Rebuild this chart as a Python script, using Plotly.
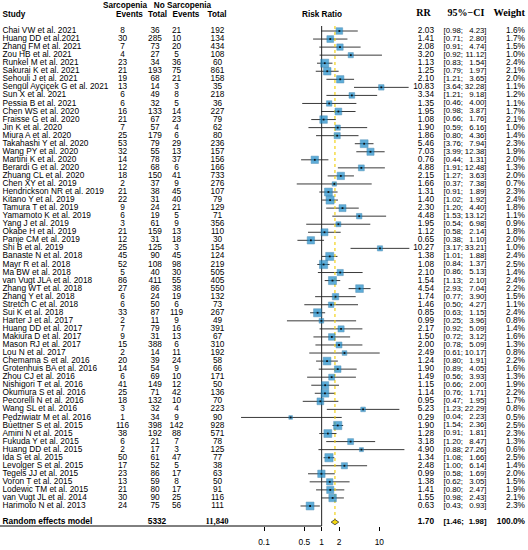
import plotly.graph_objects as go
import numpy as np

studies = [
    "Chai VW et al. 2021", "Huang DD et al.2021", "Zhang FM et al. 2021", "Zou HB et al. 2021",
    "Runkel M et al. 2021", "Sakurai K et al. 2021", "Sehouli J et al. 2021",
    "Sengül Ayçiçek G et al. 2021", "Sun X et al. 2021", "Pessia B et al. 2021",
    "Chen WS et al. 2020", "Fraisse G et al. 2020", "Jin K et al. 2020", "Miura A et al. 2020",
    "Takahashi Y et al. 2020", "Wang PY et al. 2020", "Martini K et al. 2020",
    "Berardi G et al. 2020", "Zhuang CL et al. 2020", "Chen XY et al. 2019",
    "Hendrickson NR et al. 2019", "Kitano Y et al. 2019", "Tamura T et al. 2019",
    "Yamamoto K et al. 2019", "Yang J et al. 2019", "Okabe H et al. 2019",
    "Panje CM et al. 2019", "Shi B et al. 2019", "Banaste N et al. 2018", "Mayr R et al. 2018",
    "Ma BW et al. 2018", "van Vugt JLA et al. 2018", "Zhang WT et al. 2018",
    "Zhang Y et al. 2018", "Stretch C et al. 2018", "Sui K et al. 2018", "Harter J et al. 2017",
    "Huang DD et al. 2017", "Makiura D et al. 2017", "Mason RJ et al. 2017", "Lou N et al. 2017",
    "Chemama S et al. 2016", "Grotenhuis BA et al. 2016", "Zhou CJ et al. 2016",
    "Nishigori T et al. 2016", "Okumura S et al. 2016", "Pecorelli N et al. 2016",
    "Wang SL et al. 2016", "Pędziwiatr M et al. 2016", "Buettner S et al. 2015",
    "Amini N et al. 2015", "Fukuda Y et al. 2015", "Huang DD et al. 2015", "Ida S et al. 2015",
    "Levolger S et al. 2015", "Tegels JJ et al. 2015", "Voron T et al. 2015",
    "Lodewic TM et al. 2015", "van Vugt JL et al. 2014", "Harimoto N et al. 2013",
]
sarc_events = [8, 30, 7, 4, 23, 21, 19, 13, 6, 6, 16, 21, 7, 25, 53, 32, 14, 12, 18, 2,
               21, 22, 9, 6, 3, 21, 12, 25, 45, 52, 5, 86, 27, 6, 6, 33, 2, 7, 9, 15,
               2, 20, 14, 6, 41, 25, 18, 3, 1, 116, 38, 6, 2, 50, 17, 23, 13, 21, 30, 24]
sarc_total = [36, 285, 73, 27, 34, 193, 68, 14, 49, 32, 133, 67, 57, 179, 79, 55, 78, 68, 150, 37,
              38, 31, 24, 19, 61, 159, 31, 125, 90, 108, 40, 411, 86, 24, 50, 87, 11, 79, 31, 388,
              14, 39, 54, 69, 149, 71, 132, 32, 34, 398, 192, 21, 17, 61, 52, 86, 59, 80, 90, 75]
nosarc_events = [21, 10, 20, 5, 36, 75, 21, 3, 8, 5, 14, 23, 4, 6, 29, 13, 37, 6, 41, 9,
                 45, 40, 21, 5, 9, 13, 18, 3, 45, 98, 30, 55, 38, 19, 6, 119, 9, 16, 13, 6,
                 11, 24, 9, 10, 12, 42, 10, 4, 9, 142, 88, 7, 3, 47, 5, 17, 8, 17, 25, 56]
nosarc_total = [192, 134, 434, 108, 60, 861, 158, 35, 218, 36, 227, 79, 62, 80, 236, 157, 156, 166, 733, 276,
                107, 79, 129, 71, 356, 110, 30, 154, 124, 219, 505, 405, 550, 132, 73, 267, 49, 391, 67, 310,
                192, 58, 66, 171, 50, 136, 70, 223, 90, 928, 571, 78, 125, 77, 38, 63, 50, 91, 116, 111]
rr = [2.03, 1.41, 2.08, 3.20, 1.13, 1.25, 2.10, 10.83, 3.34, 1.35, 1.95, 1.08, 1.90, 1.86, 5.46,
      7.03, 0.76, 4.88, 2.15, 1.66, 1.31, 1.40, 2.30, 4.48, 1.95, 1.12, 0.65, 10.27, 1.38, 1.08,
      2.10, 1.54, 4.54, 1.74, 1.46, 0.85, 0.99, 2.17, 1.50, 2.00, 2.49, 1.24, 1.90, 1.49, 1.15,
      1.14, 0.95, 5.23, 0.29, 1.90, 1.28, 3.18, 4.90, 1.34, 2.48, 0.99, 1.38, 1.41, 1.55, 0.63]
ci_low = [0.98, 0.71, 0.91, 0.92, 0.83, 0.79, 1.21, 3.64, 1.21, 0.46, 0.98, 0.66, 0.59, 0.80, 3.76,
          3.99, 0.44, 1.91, 1.27, 0.37, 0.91, 1.02, 1.20, 1.53, 0.54, 0.58, 0.38, 3.17, 1.01, 0.84,
          0.86, 1.13, 2.93, 0.77, 0.50, 0.63, 0.25, 0.92, 0.72, 0.78, 0.61, 0.80, 0.89, 0.56, 0.66,
          0.76, 0.47, 1.23, 0.04, 1.54, 0.91, 1.20, 0.88, 1.08, 1.00, 0.58, 0.62, 0.80, 0.98, 0.43]
ci_high = [4.23, 2.80, 4.74, 11.12, 1.54, 1.97, 3.65, 32.28, 9.18, 4.00, 3.87, 1.76, 6.16, 4.36, 7.94,
           12.38, 1.31, 12.48, 3.63, 7.38, 1.89, 1.92, 4.40, 13.12, 6.98, 2.14, 1.10, 33.21, 1.88, 1.37,
           5.13, 2.10, 7.04, 3.90, 4.27, 1.15, 3.96, 5.09, 3.12, 5.09, 10.17, 1.91, 4.05, 3.93, 2.00,
           1.71, 1.95, 22.29, 2.23, 2.36, 1.81, 8.47, 27.26, 1.66, 6.14, 1.69, 3.05, 2.47, 2.43, 0.93]
weight = [1.6, 1.7, 1.5, 1.0, 2.4, 2.1, 2.0, 1.1, 1.2, 1.1, 1.7, 2.1, 1.0, 1.4, 2.3, 1.9, 2.0, 1.3,
          2.0, 0.7, 2.3, 2.4, 1.8, 1.1, 0.9, 1.8, 2.0, 1.0, 2.4, 2.5, 1.4, 2.4, 2.2, 1.5, 1.1, 2.4,
          0.8, 1.4, 1.6, 1.3, 0.8, 2.2, 1.6, 1.3, 1.9, 2.2, 1.7, 0.8, 0.5, 2.5, 2.3, 1.3, 0.6, 2.5,
          1.4, 2.0, 1.5, 1.9, 2.1, 2.3]

pooled_rr, pooled_low, pooled_high = 1.70, 1.46, 1.98
pooled_sarc_total = "5332"
pooled_nosarc_total = "11,840"
heterogeneity = ("Heterogeneity: <i>I</i><sup>2</sup> = 75%, τ<sup>2</sup> = 0.2308, "
                 "<i>p</i> < 0.01")
tick_vals = [0.1, 0.5, 1, 2, 10]
tick_text = ["0.1", "0.5", "1", "2", "10"]

SANS = "Liberation Sans, Arial, sans-serif"
SERIF = "Liberation Serif, Times New Roman, serif"
FS = 8.3
FS_CI = 7.8

n = len(studies)
rows = list(range(n))
pooled_row = n + 1
head1, head2 = -3.1, -2.02


def col(x, texts, ys, pos, size=FS, family=SANS, color="black"):
    return go.Scatter(x=[x] * len(texts), y=ys, text=texts, mode="text", textposition=pos,
                      textfont=dict(family=family, size=size, color=color), xaxis="x2", yaxis="y",
                      hoverinfo="skip", showlegend=False, cliponaxis=False)


traces = []

# CI whiskers
wx, wy = [], []
for i in rows:
    wx += [ci_low[i], ci_high[i], None]
    wy += [i, i, None]
traces.append(go.Scatter(x=wx, y=wy, mode="lines", line=dict(color="#3a3a3a", width=1),
                         hoverinfo="skip", showlegend=False))

# reference lines
traces.append(go.Scatter(x=[1, 1], y=[-0.62, 61.485], mode="lines",
                         line=dict(color="#222222", width=1), hoverinfo="skip", showlegend=False))
traces.append(go.Scatter(x=[pooled_rr, pooled_rr], y=[-0.62, pooled_row], mode="lines",
                         line=dict(color="#f2d21b", width=1.2, dash="dot"),
                         hoverinfo="skip", showlegend=False))

# weighted squares
traces.append(go.Scatter(x=rr, y=rows, mode="markers",
                         marker=dict(symbol="square", size=[5.2 * np.sqrt(w) for w in weight],
                                     color="#1b8bc9", line=dict(color="#13679a", width=0.5)),
                         hoverinfo="skip", showlegend=False))
traces.append(go.Scatter(x=rr, y=rows, mode="markers",
                         marker=dict(symbol="square", size=1.8, color="#111111"),
                         hoverinfo="skip", showlegend=False))

# pooled diamond
h = 0.33
traces.append(go.Scatter(x=[pooled_low, pooled_rr, pooled_high, pooled_rr, pooled_low],
                         y=[pooled_row, pooled_row - h, pooled_row, pooled_row + h, pooled_row],
                         mode="lines", fill="toself", fillcolor="#f5d90f",
                         line=dict(color="#333333", width=0.8), hoverinfo="skip", showlegend=False))

# text columns
traces.append(col(2.5, studies, rows, "middle right"))
traces.append(col(122.5, [str(v) for v in sarc_events], rows, "middle center"))
traces.append(col(155, [str(v) for v in sarc_total], rows, "middle center"))
traces.append(col(176.5, [str(v) for v in nosarc_events], rows, "middle center"))
traces.append(col(217.5, [str(v) for v in nosarc_total], rows, "middle center"))
traces.append(col(434, ["%.2f" % v for v in rr], rows, "middle left"))
traces.append(col(443.5, ["[%.2f;" % v for v in ci_low], rows, "middle right", size=FS_CI))
traces.append(col(486.5, ["%.2f]" % v for v in ci_high], rows, "middle left", size=FS_CI))
traces.append(col(525, ["%.1f%%" % v for v in weight], rows, "middle left"))

# headers
traces.append(col(125, ["<b>Sarcopenia</b>"], [head1], "middle center", size=8.2))
traces.append(col(182.5, ["<b>No Sarcopenia</b>"], [head1], "middle center", size=8.2))
traces.append(col(2.5, ["<b>Study</b>"], [head2], "middle right", size=8.2))
traces.append(col(129.5, ["<b>Events</b>"], [head2], "middle center", size=8.2))
traces.append(col(157.5, ["<b>Total</b>"], [head2], "middle center", size=8.2))
traces.append(col(186, ["<b>Events</b>"], [head2], "middle center", size=8.2))
traces.append(col(217, ["<b>Total</b>"], [head2], "middle center", size=8.2))
traces.append(col(322, ["<b>Risk Ratio</b>"], [head2], "middle center", size=8.2))
traces.append(col(423.5, ["<b>RR</b>"], [head2 - 0.15], "middle center", size=10, family=SERIF))
traces.append(col(466, ["<b>95%−CI</b>"], [head2 - 0.15], "middle center", size=10, family=SERIF))
traces.append(col(525, ["<b>Weight</b>"], [head2 - 0.15], "middle left", size=10.3, family=SERIF))

# pooled row
traces.append(col(2.5, ["<b>Random effects model</b>"], [pooled_row], "middle right", size=8.4))
traces.append(col(157, ["<b>" + pooled_sarc_total + "</b>"], [pooled_row], "middle center"))
traces.append(col(217, ["<b>" + pooled_nosarc_total + "</b>"], [pooled_row], "middle center",
                  size=8.6, family=SERIF))
traces.append(col(434, ["<b>%.2f</b>" % pooled_rr], [pooled_row], "middle left"))
traces.append(col(443.5, ["<b>[%.2f;</b>" % pooled_low], [pooled_row], "middle right", size=FS_CI))
traces.append(col(486.5, ["<b>%.2f]</b>" % pooled_high], [pooled_row], "middle left", size=FS_CI))
traces.append(col(525, ["<b>100.0%</b>"], [pooled_row], "middle left"))
traces.append(col(2.5, [heterogeneity], [61.72], "middle right", size=6.9))

layout = go.Layout(
    width=528, height=550,
    margin=dict(l=0, r=0, t=0, b=24),
    paper_bgcolor="white", plot_bgcolor="white",
    xaxis=dict(type="log", range=[-5.579, 3.579], showgrid=False, zeroline=False, showline=False,
               tickvals=tick_vals, ticktext=tick_text, ticks="outside", ticklen=4,
               tickcolor="black", tickwidth=1, ticklabelstandoff=4,
               tickfont=dict(family=SANS, size=8.4, color="black")),
    xaxis2=dict(range=[0, 528], overlaying="x", visible=False),
    yaxis=dict(range=[61.485, -3.8506], visible=False),
    shapes=[dict(type="line", xref="x", yref="paper",
                 x0=np.log10(tick_vals[0]), x1=np.log10(tick_vals[-1]), y0=0, y1=0,
                 line=dict(color="black", width=1))],
)

fig = go.Figure(data=traces, layout=layout)
# the page's default body margin would push the 528x550 figure off the window
fig.write_html("out.html", config={"displayModeBar": False},
               post_script="document.body.style.margin = '0';")
